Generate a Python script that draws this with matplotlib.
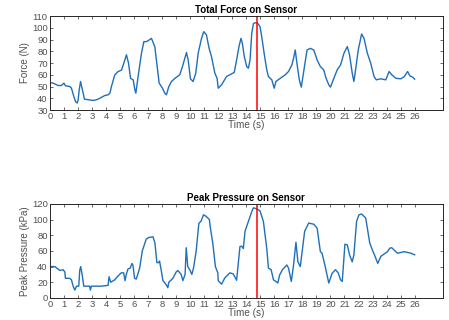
import matplotlib.pyplot as plt

plt.rcParams['font.family'] = ['Liberation Sans', 'DejaVu Sans']

# total force on sensor (N)
force_t = [0, 0.24, 0.59, 0.83, 1.0, 1.12, 1.43, 1.54, 1.71, 1.83, 1.95, 2.02, 2.09, 2.19,
           2.33, 2.47, 2.73, 3.09, 3.33, 3.56, 3.92, 4.16, 4.28, 4.39, 4.63, 4.87, 5.11,
           5.27, 5.46, 5.61, 5.75, 5.94, 6.06, 6.13, 6.29, 6.53, 6.7, 6.89, 7.08, 7.24,
           7.48, 7.65, 7.79, 8.03, 8.19, 8.31, 8.48, 8.67, 8.91, 9.26, 9.45, 9.62, 9.74,
           9.86, 10.02, 10.21, 10.4, 10.57, 10.81, 10.97, 11.16, 11.35, 11.52, 11.76, 11.92,
           12.0, 12.24, 12.59, 12.95, 13.14, 13.31, 13.48, 13.62, 13.72, 13.86, 14.03, 14.15,
           14.27, 14.39, 14.51, 14.67, 14.82, 14.98, 15.1, 15.29, 15.46, 15.58, 15.82, 15.99,
           16.11, 16.42, 16.78, 17.01, 17.25, 17.37, 17.49, 17.61, 17.78, 17.92, 18.09, 18.33,
           18.57, 18.81, 19.05, 19.28, 19.52, 19.69, 19.88, 20.0, 20.24, 20.48, 20.72, 20.96,
           21.2, 21.36, 21.55, 21.67, 21.79, 21.98, 22.22, 22.39, 22.63, 22.87, 23.11, 23.27,
           23.59, 23.94, 24.18, 24.37, 24.66, 25.02, 25.26, 25.5, 25.66, 25.86, 26.0]
force = [53.4, 52.9, 50.9, 50.9, 52.9, 50.6, 50, 48.6, 41.6, 37.3, 36, 38.8, 47, 54.3,
         47, 39.3, 38.8, 38.2, 38.8, 40, 42.4, 43, 44.4, 50, 60, 62.8, 64,
         69.8, 77, 69.8, 57, 55.7, 47.2, 44.4, 58.5, 78.3, 88.2, 88.2, 89.6, 91,
         84, 67, 53, 48.6, 44.4, 43, 50, 54.3, 57, 60, 67, 74, 78.9,
         72.6, 56.6, 54.3, 61.4, 78.3, 91, 96.7, 94, 82.5, 75.5, 61.4, 57,
         48.6, 51.5, 58.5, 60.8, 62, 72.6, 84, 91, 86.8, 75.5, 67, 65.6,
         72.6, 95.3, 103.7, 104.3, 103.7, 100.9, 92.4, 76.9, 64.2, 58.5, 55.7, 48.6,
         54.3, 57, 60, 62.8, 68.4, 74, 81.1, 69.8, 55.7, 49.5, 62.8, 81.1,
         82.5, 81.1, 72.6, 67, 64.2, 57, 51.5, 49.5, 57, 64.2, 68.4, 78.3,
         84, 76.9, 61.4, 54.3, 64.2, 81.1, 94.7, 91, 78.3, 69.8, 58.5, 55.7,
         56.6, 55.7, 62.8, 60, 57, 56.6, 58.5, 62.8, 59.1, 58, 56.3]

# peak pressure on sensor (kPa)
press_t = [0, 0.36, 0.71, 0.95, 1.07, 1.11, 1.42, 1.54, 1.66, 1.78, 1.9, 2.06, 2.13, 2.2,
           2.3, 2.42, 2.84, 2.89, 2.96, 3.67, 4.15, 4.22, 4.34, 4.62, 4.86, 5.09, 5.26,
           5.36, 5.45, 5.57, 5.73, 5.85, 5.92, 6.04, 6.16, 6.4, 6.59, 6.87, 7.04, 7.35,
           7.49, 7.63, 7.75, 7.82, 7.94, 8.06, 8.29, 8.41, 8.48, 8.77, 9.0, 9.12, 9.36,
           9.48, 9.64, 9.72, 9.83, 10.0, 10.12, 10.24, 10.43, 10.62, 10.78, 10.95, 11.14,
           11.37, 11.42, 11.61, 11.8, 11.97,
           12.0, 12.24, 12.47, 12.83, 13.07, 13.31, 13.55, 13.67, 13.79, 13.91, 14.15, 14.39,
           14.51, 14.74, 14.98, 15.22, 15.46, 15.58, 15.77, 15.94, 16.11, 16.25, 16.37,
           16.58, 16.78, 16.89, 17.01, 17.21, 17.37, 17.54, 17.68, 17.85, 17.97, 18.16,
           18.45, 18.81, 19.05, 19.28, 19.4, 19.6, 19.76, 19.88, 20.12, 20.36, 20.55, 20.72,
           20.84, 21.03, 21.2, 21.36, 21.55, 21.67, 21.86, 22.03, 22.22, 22.51, 22.8, 22.99,
           23.18, 23.37, 23.59, 23.82, 24.06, 24.23, 24.37, 24.54, 24.78, 25.02, 25.26,
           25.5, 25.74, 26.0]
pressure = [40, 40, 35, 36, 33, 25, 25, 23, 15, 10, 15, 15, 35, 40,
            30, 15, 15, 10, 15, 15, 16, 27, 20, 23, 28, 32, 32,
            22, 30, 37, 38, 44, 42, 25, 24, 38, 60, 75, 77, 78,
            70, 45, 45, 47, 35, 22, 17, 13, 20, 25, 33, 35, 30,
            22, 30, 64, 40, 35, 30, 38, 60, 95, 98, 106, 104,
            100, 92, 70, 40, 32,
            22, 17.5, 25.5, 32, 30.6, 22.5, 65.5, 66, 63, 85, 97.5, 110,
            115, 113.6, 111, 97.5, 63, 38, 36, 23, 21, 19, 29,
            36, 40, 42, 38, 21, 42, 71, 46, 40, 57, 85,
            95.5, 94, 89, 59, 57, 42, 29, 19, 31.5, 36, 32, 23,
            21, 68.5, 67.7, 55, 46, 55, 97.5, 106, 107, 102, 70, 61,
            53, 44, 53, 56, 59, 63.5, 64, 61, 57, 58, 59,
            58, 57, 55]

marker_t = 14.75
xticks = list(range(27))

blue = '#1f6fba'
gray = '#505050'


def style(ax, ylim, yticks):
    ax.set_xlim(0, 28)
    ax.set_ylim(*ylim)
    ax.set_xticks(xticks)
    ax.set_yticks(yticks)
    ax.tick_params(direction='in', length=2.5, width=0.6, labelsize=6.8,
                   colors=gray, top=True, right=True, pad=1.5)
    for s in ax.spines.values():
        s.set_linewidth(0.7)
        s.set_color('#262626')
    ax.set_xlabel('Time (s)', fontsize=7.2, color=gray, labelpad=-0.5)


fig = plt.figure(figsize=(4.49, 3.2), dpi=100)
ax1 = fig.add_axes([0.111, 0.656, 0.875, 0.294])
ax2 = fig.add_axes([0.111, 0.069, 0.875, 0.294])

ax1.plot(force_t, force, color=blue, lw=1.0)
ax1.axvline(marker_t, color='#ff0000', lw=1.1)
style(ax1, (30, 110), range(30, 111, 10))
ax1.set_ylabel('Force (N)', fontsize=7, color=gray, labelpad=1.5)
ax1.set_title('Total Force on Sensor', fontsize=7, fontweight='bold', pad=2)

ax2.plot(press_t, pressure, color=blue, lw=1.0)
ax2.axvline(marker_t, color='#ff0000', lw=1.1)
style(ax2, (0, 120), range(0, 121, 20))
ax2.set_ylabel('Peak Pressure (kPa)', fontsize=7, color=gray, labelpad=1.5)
ax2.set_title('Peak Pressure on Sensor', fontsize=7, fontweight='bold', pad=2)

fig.savefig('out.png', dpi=100)
